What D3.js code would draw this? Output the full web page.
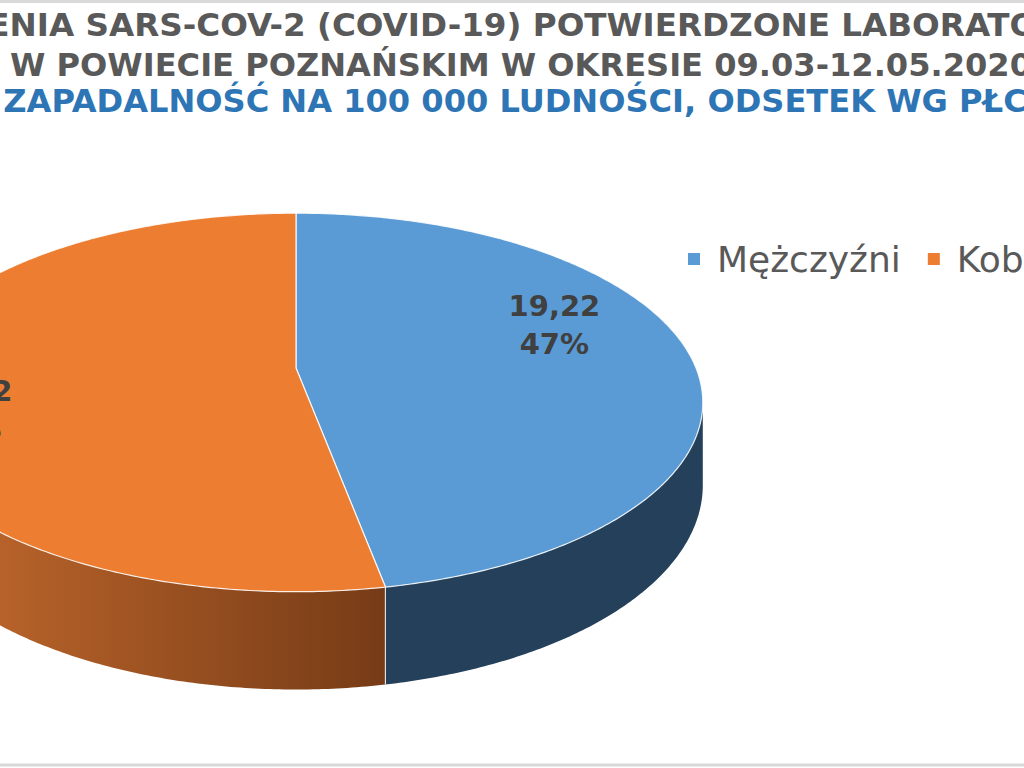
<!doctype html>
<html lang="pl">
<head>
  <meta charset="utf-8">
  <script src="https://cdnjs.cloudflare.com/ajax/libs/d3/7.8.5/d3.min.js"></script>
  <style type="text/css">
    body {
      padding: 0;
      margin: 0;
      background: #fff;
      overflow: hidden;
    }
    svg {
      display: block;
    }
  </style>
</head>
<body>
<svg id="chart" width="1024" height="768"></svg>
<script>

// data
var categories = ['Mężczyźni', 'Kobiety'];
var values = [19.22, 21.62];
var topColors = ['#5b9bd5', '#ed7d31'];
var titleLines = [
  'ZAKAŻENIA SARS-COV-2 (COVID-19) POTWIERDZONE LABORATORYJNIE',
  'W POWIECIE POZNAŃSKIM W OKRESIE 09.03-12.05.2020',
  'ZAPADALNOŚĆ NA 100 000 LUDNOŚCI, ODSETEK WG PŁCI'
];
var titleColors = ['#595959', '#595959', '#2e75b6'];

var width = 1024;
var height = 768;

var svg = d3.select('#chart');

var pl = d3.formatLocale({decimal: ',', thousands: ' ', grouping: [3], currency: ['', ' zł']});
var fmtValue = pl.format('.2f');
var fmtPct = d3.format('.0%');

// chart area border (only top and bottom edges are inside the crop)
svg.append('rect')
  .attr('x', -10)
  .attr('y', 1.5)
  .attr('width', width + 20)
  .attr('height', height - 4.5)
  .attr('fill', '#fff')
  .attr('stroke', '#d9d9d9')
  .attr('stroke-width', 3);

// title, squeezed to the width seen in the picture
var titleCenter = 521;
var titleBase = [36, 76, 112];
var titleExtra = [20, 0, 0];
var title = svg.append('g')
  .style('font-family', '"DejaVu Sans Condensed", "DejaVu Sans", sans-serif')
  .style('font-weight', 'bold')
  .style('font-size', '32px');

var titleNodes = titleLines.map(function(t, i) {
  return title.append('text')
    .attr('y', titleBase[i])
    .attr('fill', titleColors[i])
    .text(t);
});
var squeeze = 1022 / titleNodes[1].node().getComputedTextLength();
titleNodes.forEach(function(node, i) {
  var len = node.node().getComputedTextLength() * squeeze + titleExtra[i];
  node.attr('x', titleCenter - titleExtra[i] / 2 - len / 2)
    .attr('textLength', len)
    .attr('lengthAdjust', 'spacingAndGlyphs');
});

// 3D pie with a simple perspective projection
var pieGeo = {cx: 296, cy: 368, rx: 400, ry: 183, persp: 0.182, depth: 80};

function project(theta, r, h) {
  var w = 1 + pieGeo.persp * Math.cos(theta) * r;
  return [
    pieGeo.cx + pieGeo.rx * Math.sin(theta) * r / w,
    pieGeo.cy - pieGeo.ry * Math.cos(theta) * r / w + pieGeo.depth * h / w
  ];
}

function arcPoints(a0, a1, r, h) {
  var n = Math.max(2, Math.ceil((a1 - a0) / 0.01));
  return d3.range(n + 1).map(function(i) {
    return project(a0 + (a1 - a0) * i / n, r, h);
  });
}

var line = d3.line();
var slices = d3.pie().sort(null)(values);
var total = d3.sum(values);

// side is visible between the two silhouette angles
var sideFrom = Math.acos(-pieGeo.persp);
var sideTo = 2 * Math.PI - sideFrom;

var defs = svg.append('defs');
var grad = defs.append('linearGradient')
  .attr('id', 'orangeSide')
  .attr('gradientUnits', 'userSpaceOnUse')
  .attr('x1', project(sideTo, 1, 0)[0])
  .attr('x2', project(slices[1].startAngle, 1, 0)[0])
  .attr('y1', 0)
  .attr('y2', 0);
grad.append('stop').attr('offset', 0).attr('stop-color', '#c96d2f');
grad.append('stop').attr('offset', 1).attr('stop-color', '#763b16');

var sideFills = ['#25405b', 'url(#orangeSide)'];

var sides = slices.map(function(d, i) {
  var a0 = Math.max(d.startAngle, sideFrom);
  var a1 = Math.min(d.endAngle, sideTo);
  return {i: i, a0: a0, a1: a1};
}).filter(function(s) { return s.a1 > s.a0; });

svg.selectAll('path.side').data(sides).enter().append('path')
  .attr('class', 'side')
  .attr('d', function(s) {
    var pts = arcPoints(s.a0, s.a1, 1, 0).concat(arcPoints(s.a0, s.a1, 1, 1).reverse());
    return line(pts) + 'Z';
  })
  .attr('fill', function(s) { return sideFills[s.i]; });

// light edge where two sides meet
slices.forEach(function(d) {
  if (d.startAngle > sideFrom && d.startAngle < sideTo) {
    svg.append('path')
      .attr('d', line([project(d.startAngle, 1, 0), project(d.startAngle, 1, 1)]))
      .attr('stroke', '#fff')
      .attr('stroke-opacity', 0.8)
      .attr('stroke-width', 1.2);
  }
});

svg.selectAll('path.top').data(slices).enter().append('path')
  .attr('class', 'top')
  .attr('d', function(d) {
    var pts = [project(0, 0, 0)].concat(arcPoints(d.startAngle, d.endAngle, 1, 0));
    return line(pts) + 'Z';
  })
  .attr('fill', function(d, i) { return topColors[i]; })
  .attr('stroke', '#fff')
  .attr('stroke-opacity', 0.85)
  .attr('stroke-width', 1.2)
  .attr('stroke-linejoin', 'round');

// data labels
var labelShift = [15, 10];
var labelRadius = [0.72, 0.82];
var labels = svg.selectAll('g.label').data(slices).enter().append('g')
  .attr('class', 'label')
  .attr('transform', function(d, i) {
    var mid = (d.startAngle + d.endAngle) / 2 - labelShift[i] * Math.PI / 180;
    var p = project(mid, labelRadius[i], 0);
    return 'translate(' + p[0] + ',' + p[1] + ')';
  })
  .style('font-family', '"DejaVu Sans", Verdana, sans-serif')
  .style('font-weight', 'bold')
  .style('font-size', '29px')
  .attr('fill', '#404040')
  .attr('text-anchor', 'middle');

labels.append('text')
  .attr('y', -8)
  .text(function(d) { return fmtValue(d.value); });
labels.append('text')
  .attr('y', 30)
  .text(function(d) { return fmtPct(d.value / total); });

// legend
var legend = svg.append('g')
  .style('font-family', '"DejaVu Sans", Verdana, sans-serif')
  .style('font-size', '36px');
var lx = 688;
categories.forEach(function(c, i) {
  legend.append('rect')
    .attr('x', lx)
    .attr('y', 253)
    .attr('width', 12)
    .attr('height', 12)
    .attr('fill', topColors[i]);
  var t = legend.append('text')
    .attr('x', lx + 29)
    .attr('y', 272)
    .attr('fill', '#595959')
    .text(c);
  lx = lx + 29 + t.node().getComputedTextLength() + 27;
});

</script>
</body>
</html>
